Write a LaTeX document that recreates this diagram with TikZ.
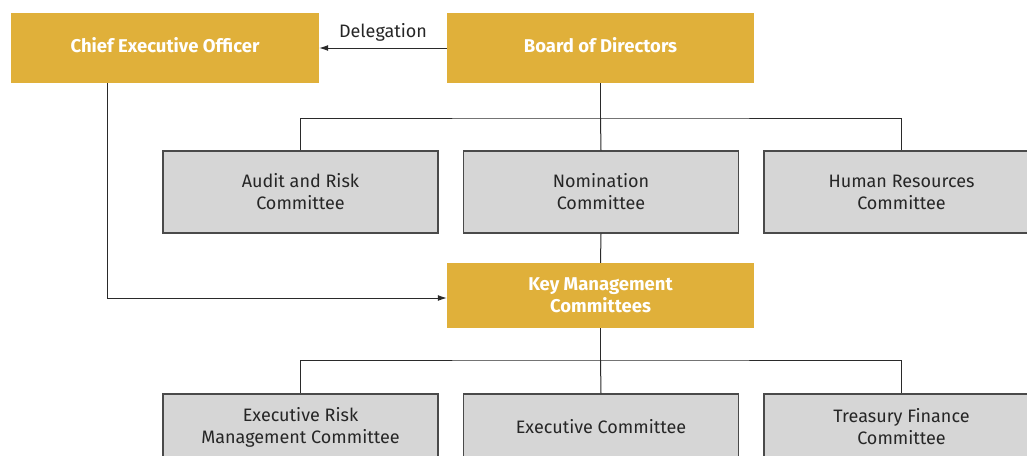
\documentclass[tikz,border=0pt]{standalone}
\usepackage{fontspec}
\setmainfont{Fira Sans}
\usetikzlibrary{arrows.meta}
\definecolor{gold}{HTML}{E0B03A}
\definecolor{boxgrey}{HTML}{D6D6D6}
\definecolor{edgegrey}{HTML}{4A4A4A}
\definecolor{linecol}{HTML}{2A2A2A}
\tikzset{
  goldbox/.style={rectangle, fill=gold, text=white, font=\fontsize{18.5}{22}\selectfont\bfseries, align=center, inner sep=0pt},
  greybox/.style={rectangle, fill=boxgrey, draw=edgegrey, line width=1.1pt, text=black!85, font=\fontsize{18}{22}\selectfont, align=center, inner sep=0pt, minimum width=275pt},
  conn/.style={draw=linecol, line width=1pt},
  arr/.style={conn, -{Latex[length=9pt,width=6pt]}},
}
\begin{document}
\begin{tikzpicture}[x=1pt,y=-1pt]
\useasboundingbox (0,0) rectangle (1027,455);
\clip (0,0) rectangle (1027,455);
% gold boxes
\node[goldbox, minimum width=308pt, minimum height=70pt, text depth=6pt] (ceo) at (165,48) {Chief Executive Officer};
\node[goldbox, minimum width=307pt, minimum height=70pt, text depth=6pt] (board) at (600.5,48) {Board of Directors};
\node[goldbox, minimum width=307pt, minimum height=65pt] (key) at (600.5,295.5) {Key Management\\Committees};
% middle row
\node[greybox, minimum height=82pt] (audit) at (300.5,192) {Audit and Risk\\Committee};
\node[greybox, minimum height=82pt] (nom) at (601,192) {Nomination\\Committee};
\node[greybox, minimum height=82pt] (hr) at (901.5,192) {Human Resources\\Committee};
% bottom row
\node[greybox, minimum height=66pt] (erm) at (300.5,427) {Executive Risk\\Management Committee};
\node[greybox, minimum height=66pt] (exec) at (601,427) {Executive Committee};
\node[greybox, minimum height=66pt] (tfc) at (901.5,427) {Treasury Finance\\Committee};
% connectors top tree
\coordinate (b1) at (600.5,118);
\draw[conn] (board.south) -- (b1);
\draw[conn] (audit.north) |- (b1) -| (hr.north);
\draw[conn] (b1) -- (nom.north);
% nomination to key
\draw[conn] (nom.south) -- (key.north);
% bottom tree
\coordinate (b2) at (600.5,360);
\draw[conn] (key.south) -- (b2);
\draw[conn] (erm.north) |- (b2) -| (tfc.north);
\draw[conn] (b2) -- (exec.north);
% delegation
\draw[arr] (board.west) -- node[above=3pt, font=\fontsize{18}{22}\selectfont, text=black!85] {Delegation} (ceo.east);
% CEO to key
\coordinate (c1) at (107,83);
\coordinate (c2) at (107,298);
\draw[arr] (c1) -- (c2) -- (key.west |- c2);
\end{tikzpicture}
\end{document}
